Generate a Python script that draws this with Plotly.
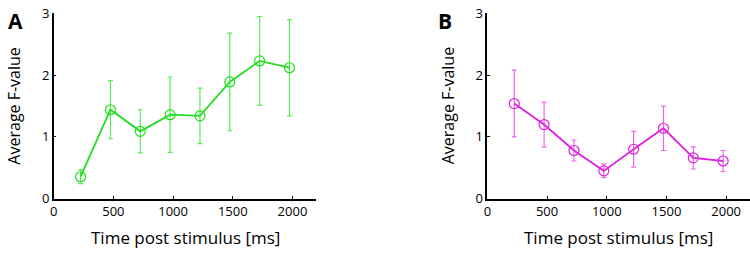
import plotly.graph_objects as go

time_ms = [225, 475, 725, 975, 1225, 1475, 1725, 1975]
a_mean = [0.355, 1.44, 1.09, 1.36, 1.34, 1.89, 2.23, 2.12]
a_err = [0.11, 0.47, 0.35, 0.61, 0.45, 0.79, 0.72, 0.78]
b_mean = [1.54, 1.20, 0.78, 0.45, 0.80, 1.14, 0.66, 0.61]
b_err = [0.54, 0.36, 0.17, 0.11, 0.29, 0.36, 0.18, 0.17]
x_ticks = [0, 500, 1000, 1500, 2000]
y_ticks = [0, 1, 2, 3]

FONT = "Open Sans"
fig = go.Figure()

def add(mean, err, line_col, err_col, xa, ya):
    fig.add_trace(go.Scatter(
        x=time_ms, y=mean, mode="lines+markers",
        line=dict(color=line_col, width=1.8),
        marker=dict(symbol="circle-open", size=10, color=line_col, line=dict(width=1.2)),
        error_y=dict(type="data", array=err, visible=True, color=err_col, thickness=1.2, width=2.5),
        xaxis=xa, yaxis=ya, showlegend=False, cliponaxis=False))

add(a_mean, a_err, "#22dd22", "#55ee55", "x", "y")
add(b_mean, b_err, "#dd22dd", "#ee66ee", "x2", "y2")

ax_common = dict(range=[0, 2200], tickvals=x_ticks, ticks="inside", ticklen=3, tickcolor="black",
                 showline=True, linecolor="black", linewidth=1.5, showgrid=False, zeroline=False,
                 ticklabeloverflow="allow",
                 tickfont=dict(family=FONT, size=13, color="black"))
ay_common = dict(range=[0, 3.002], tickvals=y_ticks, ticks="inside", ticklen=3, tickcolor="black",
                 showline=True, linecolor="black", linewidth=1.5, showgrid=False, zeroline=False,
                 ticklabeloverflow="allow",
                 tickfont=dict(family=FONT, size=13, color="black"))

y_dom = [(256 - 204) / 256, (256 - 4.6) / 256]
fig.update_layout(
    width=750, height=256, margin=dict(l=0, r=0, t=0, b=0),
    plot_bgcolor="white", paper_bgcolor="white",
    xaxis=dict(domain=[50 / 750, 314 / 750], anchor="y", **ax_common),
    yaxis=dict(domain=y_dom, anchor="x", **ay_common),
    xaxis2=dict(domain=[486 / 750, 750 / 750], anchor="y2", **ax_common),
    yaxis2=dict(domain=y_dom, anchor="x2", **ay_common),
)

def ann(text, x, y, size, bold=False, angle=0):
    fig.add_annotation(text=f"<b>{text}</b>" if bold else text, x=x / 750, y=1 - y / 256,
                       xref="paper", yref="paper", showarrow=False, textangle=angle,
                       xanchor="center", yanchor="middle",
                       font=dict(family=FONT, size=size, color="black"))

ann("Time post stimulus [ms]", 182, 246, 17)
ann("Time post stimulus [ms]", 618, 246, 17)
ann("Average F-value", 10, 104, 16, angle=-90)
ann("Average F-value", 446, 104, 16, angle=-90)
ann("A", 12, 13, 21, bold=True)
ann("B", 443, 13, 21, bold=True)

fig.write_html("out.html", config={"displayModeBar": False},
               post_script="document.body.style.margin='0';")
